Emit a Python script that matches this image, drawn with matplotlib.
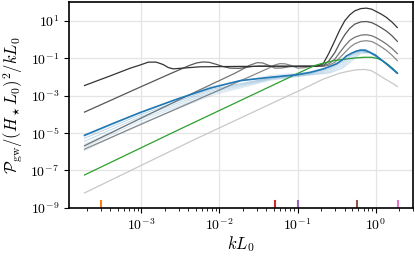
import numpy as np
import matplotlib
matplotlib.use("Agg")
import matplotlib.pyplot as plt
from matplotlib.ticker import FixedLocator, LogLocator, NullLocator, FuncFormatter

plt.rcParams['mathtext.fontset'] = 'cm'
plt.rcParams['font.family'] = 'serif'
plt.rcParams['font.serif'] = ['DejaVu Serif']

# ---- data (log10 values) ----
# gray family (darkest -> lighter)
lkA = [-3.728, -3.37, -3.14, -3.013, -2.91, -2.81, -2.72, -2.655, -2.59, -2.50, -2.25, -1.8, -1.3, -0.9,
       -0.75, -0.672, -0.60, -0.522, -0.46, -0.395, -0.33, -0.267, -0.19, -0.118, -0.05, 0.010, 0.075, 0.138, 0.21, 0.278]
lyA = [-2.46, -1.90, -1.53, -1.36, -1.21, -1.21, -1.34, -1.50, -1.57, -1.54, -1.46, -1.44, -1.43, -1.43,
       -1.43, -1.30, -0.75, -0.06, 0.50, 1.00, 1.32, 1.53, 1.65, 1.675, 1.62, 1.49, 1.35, 1.18, 0.93, 0.64]

lkB = [-3.728, -3.37, -3.013, -2.63, -2.374, -2.29, -2.208, -2.13, -2.055, -1.95, -1.863, -1.75, -1.67, -1.57, -1.48, -1.3, -1.0,
       -0.75, -0.672, -0.60, -0.522, -0.46, -0.395, -0.33, -0.267, -0.19, -0.118, -0.05, 0.010, 0.075, 0.138, 0.21, 0.278]
lyB = [-3.88, -3.21, -2.54, -1.83, -1.37, -1.25, -1.20, -1.22, -1.31, -1.45, -1.53, -1.54, -1.50, -1.44, -1.42, -1.43, -1.43,
       -1.43, -1.40, -1.15, -0.70, -0.20, 0.25, 0.60, 0.82, 0.94, 0.96, 0.90, 0.78, 0.62, 0.45, 0.20, -0.10]

lkC = [-3.728, -3.013, -2.246, -1.80, -1.70, -1.608, -1.52, -1.45, -1.37, -1.29, -1.20, -1.097, -0.9,
       -0.75, -0.672, -0.60, -0.522, -0.46, -0.395, -0.33, -0.267, -0.19, -0.118, -0.05, 0.010, 0.075, 0.138, 0.21, 0.278]
lyC = [-5.68, -4.22, -2.68, -1.80, -1.58, -1.37, -1.24, -1.25, -1.38, -1.53, -1.52, -1.45, -1.43,
       -1.43, -1.42, -1.30, -1.05, -0.70, -0.35, -0.05, 0.12, 0.23, 0.255, 0.20, 0.09, -0.07, -0.24, -0.48, -0.755]

lkD = [-3.728, -3.013, -2.246, -1.608, -1.353, -1.29, -1.225, -1.16, -1.097, -0.995, -0.92, -0.84,
       -0.75, -0.672, -0.60, -0.522, -0.46, -0.395, -0.33, -0.267, -0.19, -0.118, -0.05, 0.010, 0.075, 0.138, 0.21, 0.278]
lyD = [-5.86, -4.55, -3.15, -1.98, -1.50, -1.36, -1.29, -1.30, -1.37, -1.53, -1.51, -1.45,
       -1.43, -1.43, -1.38, -1.22, -0.98, -0.70, -0.42, -0.23, -0.10, -0.064, -0.11, -0.23, -0.40, -0.58, -0.84, -1.13]

lkE = [-3.728, -2.336, -1.097, -0.969, -0.672, -0.459, -0.35, -0.245, -0.14, -0.06, 0.01, 0.137, 0.21, 0.278]
lyE = [-8.20, -5.38, -2.96, -2.72, -2.12, -1.80, -1.70, -1.62, -1.60, -1.66, -1.82, -2.15, -2.33, -2.51]

# green
lkG = [-3.728, -2.5, -0.99, -0.78, -0.676, -0.52, -0.35, -0.245, -0.14, -0.054, 0.03, 0.094, 0.157, 0.22, 0.278]
lyG = [-7.24, -4.78, -1.80, -1.39, -1.27, -1.12, -1.03, -0.98, -0.95, -0.95, -1.02, -1.15, -1.33, -1.55, -1.80]

# main blue
lk_blue = [-3.728, -3.37, -3.013, -2.566, -2.119, -1.736, -1.35, -1.0, -0.84, -0.675, -0.59, -0.50, -0.43, -0.373,
           -0.31, -0.245, -0.19, -0.13, -0.075, 0.0, 0.052, 0.12, 0.18, 0.278]
ly_blue = [-5.12, -4.50, -3.90, -3.22, -2.60, -2.20, -2.02, -1.88, -1.76, -1.58, -1.45, -1.30, -1.10, -0.88,
           -0.74, -0.62, -0.565, -0.57, -0.68, -0.84, -1.02, -1.24, -1.45, -1.80]

# light blue family
lk_lb = [-3.728, -3.013, -2.119, -1.35, -0.84, -0.59, -0.43, -0.31, -0.19, -0.075, 0.052, 0.18, 0.278]
ly_lb = [
    [-5.18, -3.92, -2.52, -1.93, -1.74, -1.47, -1.12, -0.76, -0.57, -0.68, -1.02, -1.45, -1.80],
    [-5.28, -4.02, -2.68, -2.05, -1.79, -1.55, -1.22, -0.82, -0.59, -0.68, -1.02, -1.45, -1.80],
    [-5.44, -4.13, -2.76, -2.08, -1.82, -1.62, -1.32, -0.90, -0.62, -0.69, -1.02, -1.45, -1.80],
    [-5.60, -4.25, -2.84, -2.11, -1.85, -1.70, -1.42, -1.00, -0.66, -0.70, -1.03, -1.45, -1.80],
    [-5.76, -4.36, -2.92, -2.14, -1.88, -1.76, -1.50, -1.10, -0.70, -0.71, -1.03, -1.45, -1.80],
    [-5.94, -4.49, -3.01, -2.18, -1.90, -1.80, -1.56, -1.18, -0.75, -0.72, -1.04, -1.45, -1.80],
]
lb_alpha = [0.18, 0.32, 0.27, 0.23, 0.2, 0.17]

# marker positions along the k axis
k_marks = [3.05e-4, 0.051, 0.1, 0.57, 1.91]
mark_colors = ['C1', 'C3', 'C4', 'C5', 'C6']

gray_curves = [(lkA, lyA, '#333333'), (lkB, lyB, '#555555'), (lkC, lyC, '#747474'), (lkD, lyD, '#8a8a8a')]

fig = plt.figure(figsize=(4.15, 2.57), dpi=100)
ax = fig.add_axes([0.166, 0.191, 0.829, 0.801])

def P(a):
    return 10 ** np.asarray(a, dtype=float)

ax.plot(P(lkE), P(lyE), color='#c8c8c8', lw=0.9)
for lk, ly, c in gray_curves[::-1]:
    ax.plot(P(lk), P(ly), color=c, lw=0.9)
ax.plot(P(lkG), P(lyG), color='C2', lw=0.9)
for ly, a in zip(ly_lb, lb_alpha):
    ax.plot(P(lk_lb), P(ly), color='C0', alpha=a, lw=0.7)
ax.plot(P(lk_blue), P(ly_blue), color='C0', lw=1.2)

for k, c in zip(k_marks, mark_colors):
    ax.axvline(k, ymin=0, ymax=0.035, color=c, lw=1.5)

ax.set_xscale('log')
ax.set_yscale('log')
ax.set_xlim(10 ** -3.928, 10 ** 0.478)
ax.set_ylim(1e-9, 1e2)

ax.yaxis.set_major_locator(FixedLocator([1e1, 1e-1, 1e-3, 1e-5, 1e-7, 1e-9]))
ax.yaxis.set_minor_locator(NullLocator())
ax.xaxis.set_major_locator(FixedLocator([1e-3, 1e-2, 1e-1, 1e0]))
ax.xaxis.set_minor_locator(LogLocator(base=10, subs=np.arange(2, 10), numticks=20))
fmt = FuncFormatter(lambda v, p: r'$10^{%d}$' % int(round(np.log10(v))))
ax.xaxis.set_major_formatter(fmt)
ax.yaxis.set_major_formatter(fmt)
ax.tick_params(labelsize=10)

ax.grid(True, which='major', color='#e4e4e4', lw=0.9)
ax.set_axisbelow(True)
for s in ax.spines.values():
    s.set_linewidth(1.2)

ax.set_xlabel(r'$kL_0$', fontsize=12, labelpad=1)
ax.set_ylabel(r'$\mathcal{P}_{\rm gw}/(H_\star L_0)^2/kL_0$', fontsize=12)

fig.savefig('out.png', dpi=100)
